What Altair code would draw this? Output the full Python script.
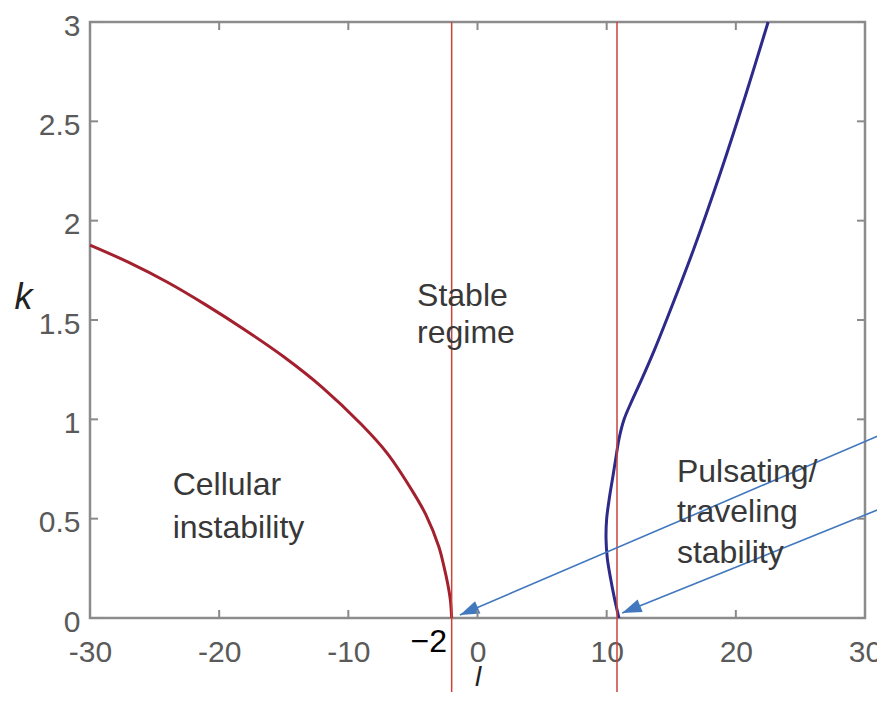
import altair as alt
import pandas as pd

# ---- data ----
x_ticks = [-30, -20, -10, 0, 10, 20, 30]
y_ticks = [0, 0.5, 1, 1.5, 2, 2.5, 3]

red_l = [-30, -27, -24, -21, -18, -15, -12, -9, -7, -5, -4, -3, -2.6, -2.3, -2.1, -2.0]
red_k = [1.877, 1.79, 1.69, 1.575, 1.45, 1.315, 1.16, 0.975, 0.83, 0.635, 0.52, 0.36, 0.26, 0.17, 0.09, 0.0]

blue_l = [10.95, 10.6, 10.3, 10.05, 9.95, 10.0, 10.2, 10.45, 10.7, 10.95, 11.35, 12.0, 12.7, 13.7, 14.63, 16.7, 18.8, 20.75, 22.5]
blue_k = [0.0, 0.1, 0.2, 0.3, 0.4, 0.5, 0.6, 0.7, 0.8, 0.9, 1.0, 1.1, 1.2, 1.35, 1.5, 1.85, 2.24, 2.63, 3.0]

vline_l = [-2, 10.8]

arrow_x_start = [31.7, 31.7]
arrow_y_start = [0.936, 0.563]
arrow_x_end = [-1.36, 11.2]
arrow_y_end = [0.015, 0.025]
arrow_angle = [246.8, 248.0]

label_text = ["Stable", "regime", "Cellular", "instability", "Pulsating/", "traveling", "stability"]
label_l = [-4.68, -4.68, -23.6, -23.6, 15.44, 15.44, 15.44]
label_k = [1.568, 1.384, 0.619, 0.403, 0.686, 0.485, 0.277]

mark_text_val = ["\u22122"]
mark_text_l = [-2.36]
mark_text_k = [-0.171]

# ---- chart ----
W, H = 775, 596
FONT = "Liberation Sans"
xs = alt.Scale(domain=[-30, 30], nice=False, zero=False)
ys = alt.Scale(domain=[0, 3], nice=False, zero=False)

ax_x = alt.Axis(
    values=x_ticks, grid=False, domain=False, ticks=False,
    labelExpr="datum.value + ''", labelFont=FONT, labelFontSize=30,
    labelColor="#5a5a5a", labelPadding=19, labelFlush=False,
    title="l", titleFont=FONT, titleFontSize=28, titleFontStyle="italic",
    titleFontWeight="normal", titleColor="#222222", titleBaseline="top",
    titleY=45)
ax_y = alt.Axis(
    values=y_ticks, grid=False, domain=False, ticks=False,
    labelFont=FONT, labelFontSize=30, labelColor="#5a5a5a", labelPadding=10,
    labelOffset=4, labelExpr="datum.value + ''",
    title="k", titleFont=FONT, titleFontSize=36, titleFontStyle="italic",
    titleFontWeight="normal", titleColor="#222222", titleAngle=0,
    titleAlign="center", titleBaseline="alphabetic", titleX=-67, titleY=286)

red_df = pd.DataFrame({"l": red_l, "k": red_k, "i": range(len(red_l))})
blue_df = pd.DataFrame({"l": blue_l, "k": blue_k, "i": range(len(blue_l))})
vl_df = pd.DataFrame({"l": vline_l, "k0": [-0.5] * len(vline_l), "k1": [3] * len(vline_l)})
arr_df = pd.DataFrame({"x1": arrow_x_start, "y1": arrow_y_start, "x2": arrow_x_end,
                       "y2": arrow_y_end, "ang": arrow_angle})
lab_df = pd.DataFrame({"t": label_text, "l": label_l, "k": label_k})
m2_df = pd.DataFrame({"t": mark_text_val, "l": mark_text_l, "k": mark_text_k})
xt_df = pd.DataFrame({"v": x_ticks})
yt_df = pd.DataFrame({"v": y_ticks})


def X(f):
    return alt.X(f, scale=xs, axis=ax_x)


def Y(f):
    return alt.Y(f, scale=ys, axis=ax_y)


red_curve = alt.Chart(red_df).mark_line(
    color="#A3202E", strokeWidth=3, interpolate="catmull-rom").encode(
    x=X("l:Q"), y=Y("k:Q"), order="i:Q")

blue_curve = alt.Chart(blue_df).mark_line(
    color="#2E2A8A", strokeWidth=3, interpolate="catmull-rom").encode(
    x=X("l:Q"), y=Y("k:Q"), order="i:Q")

vlines = alt.Chart(vl_df).mark_rule(color="#C9423C", strokeWidth=1.5, clip=False).encode(
    x=X("l:Q"), y=Y("k0:Q"), y2="k1:Q")

arrows = alt.Chart(arr_df).mark_rule(color="#4178BE", strokeWidth=1.6, clip=False).encode(
    x=X("x1:Q"), y=Y("y1:Q"), x2="x2:Q", y2="y2:Q")

heads = alt.Chart(arr_df).mark_point(
    shape="M0,0 L-0.35,1 L0.35,1 Z", filled=True, size=1500, color="#4178BE",
    opacity=1, strokeWidth=0, clip=False
).encode(x=X("x2:Q"), y=Y("y2:Q"), angle=alt.Angle("ang:Q", scale=None))

labels = alt.Chart(lab_df).mark_text(
    align="left", baseline="alphabetic", font=FONT, fontSize=32, color="#383838"
).encode(x=X("l:Q"), y=Y("k:Q"), text="t:N")

m2 = alt.Chart(m2_df).mark_text(
    align="right", baseline="alphabetic", font=FONT, fontSize=32, color="#000000"
).encode(x=X("l:Q"), y=Y("k:Q"), text="t:N")

TK = "#8a8a8a"
tick_b = alt.Chart(xt_df).mark_rule(color=TK, strokeWidth=2).encode(
    x=X("v:Q"), y=alt.value(H), y2=alt.value(H - 8))
tick_t = alt.Chart(xt_df).mark_rule(color=TK, strokeWidth=2).encode(
    x=X("v:Q"), y=alt.value(0), y2=alt.value(8))
tick_l = alt.Chart(yt_df).mark_rule(color=TK, strokeWidth=2).encode(
    y=Y("v:Q"), x=alt.value(0), x2=alt.value(8))
tick_r = alt.Chart(yt_df).mark_rule(color=TK, strokeWidth=2).encode(
    y=Y("v:Q"), x=alt.value(W), x2=alt.value(W - 8))

chart = alt.layer(
    red_curve, blue_curve, vlines, arrows, heads, labels, m2,
    tick_b, tick_t, tick_l, tick_r
).properties(
    width=W, height=H,
    autosize=alt.AutoSizeParams(type="none"),
    padding={"left": 82, "top": 14, "right": 12, "bottom": 74},
    background="white",
).configure_view(stroke="#8c8c8c", strokeWidth=2.5)

chart.save("out.html", embed_options={"renderer": "svg", "actions": False})
